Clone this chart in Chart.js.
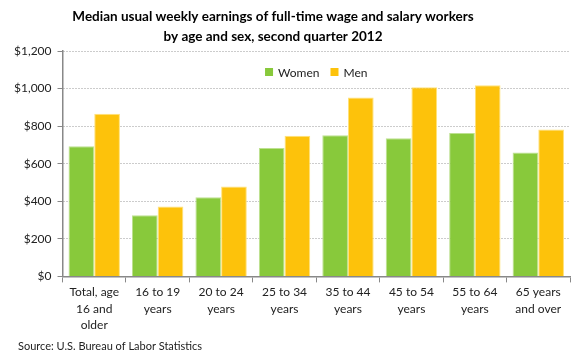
<!DOCTYPE html>
<html>
<head>
<meta charset="utf-8">
<script src="https://cdn.jsdelivr.net/npm/chart.js@4.4.1/dist/chart.umd.min.js"></script>
<style>
  html, body { margin: 0; padding: 0; background: #fff; }
  #wrap { width: 580px; height: 360px; }
</style>
</head>
<body>
<div id="wrap"><canvas id="earningsChart" width="580" height="360"></canvas></div>
<script>
const categories = [
    ['Total, age', '16 and', 'older'],
    ['16 to 19', 'years'],
    ['20 to 24', 'years'],
    ['25 to 34', 'years'],
    ['35 to 44', 'years'],
    ['45 to 54', 'years'],
    ['55 to 64', 'years'],
    ['65 years', 'and over']
];
const women = [693, 326, 421, 683, 751, 736, 763, 660];
const men = [866, 372, 478, 749, 952, 1007, 1018, 782];
const yTicks = [0, 200, 400, 600, 800, 1000, 1200];

const titleLines = ['Median usual weekly earnings of full-time wage and salary workers',
                    'by age and sex, second quarter 2012'];
const sourceText = 'Source: U.S. Bureau of Labor Statistics';

const fontFamily = 'Lato, "Open Sans", sans-serif';

// title, legend inside the plot and source note
const extras = {
    id: 'extras',
    afterDraw(chart) {
        const c = chart.ctx;
        const area = chart.chartArea;
        c.save();
        c.textBaseline = 'middle';

        c.fillStyle = '#000';
        c.textAlign = 'center';
        c.font = 'bold 13.5px ' + fontFamily;
        c.fillText(titleLines[0], 273, 17);
        c.fillText(titleLines[1], 273, 37);

        c.textAlign = 'left';
        c.fillStyle = '#222';
        c.font = '11px ' + fontFamily;
        c.fillText(sourceText, 18, 346);

        // legend
        c.font = '12px ' + fontFamily;
        const items = chart.data.datasets.map(ds => ({
            label: ds.label, color: ds.backgroundColor,
            w: 8 + 5 + c.measureText(ds.label).width
        }));
        const gap = 11;
        const total = items.reduce((s, it) => s + it.w, 0) + gap * (items.length - 1);
        let x = (area.left + area.right) / 2 - total / 2;
        const y = area.top + 21;
        items.forEach(it => {
            c.fillStyle = it.color;
            c.fillRect(x, y - 4, 8, 8);
            c.fillStyle = '#222';
            c.fillText(it.label, x + 13, y + 1);
            x += it.w + gap;
        });
        c.restore();
    }
};

const ctx = document.getElementById('earningsChart').getContext('2d');
new Chart(ctx, {
    type: 'bar',
    data: {
        labels: categories,
        datasets: [
            {
                label: 'Women',
                data: women,
                backgroundColor: '#88C93B',
                borderColor: '#BDE190',
                borderWidth: 1
            },
            {
                label: 'Men',
                data: men,
                backgroundColor: '#FDC20B',
                borderColor: '#FFE27A',
                borderWidth: 1
            }
        ]
    },
    options: {
        responsive: false,
        animation: false,
        layout: { padding: { left: 8, right: 10, top: 51, bottom: 25 } },
        datasets: {
            bar: { categoryPercentage: 0.81, barPercentage: 1.0 }
        },
        plugins: {
            title: { display: false },
            legend: { display: false },
            tooltip: { enabled: false }
        },
        scales: {
            x: {
                grid: {
                    display: true,
                    drawOnChartArea: false,
                    drawTicks: true,
                    tickLength: 6,
                    color: '#888'
                },
                border: { color: '#888', width: 1.5 },
                ticks: {
                    color: '#222',
                    maxRotation: 0,
                    autoSkip: false,
                    padding: 2,
                    font: { family: fontFamily, size: 12, lineHeight: 1.35 }
                }
            },
            y: {
                min: 0,
                max: 1200,
                afterBuildTicks: (axis) => {
                    axis.ticks = yTicks.map(v => ({ value: v }));
                },
                grid: {
                    color: '#999',
                    tickLength: 5,
                    tickColor: '#888'
                },
                border: { color: '#888', width: 1.5, dash: [1, 2] },
                ticks: {
                    color: '#222',
                    padding: 6,
                    font: { family: fontFamily, size: 12 },
                    callback: (v) => '$' + v.toLocaleString('en-US')
                }
            }
        }
    },
    plugins: [extras]
});
</script>
</body>
</html>
